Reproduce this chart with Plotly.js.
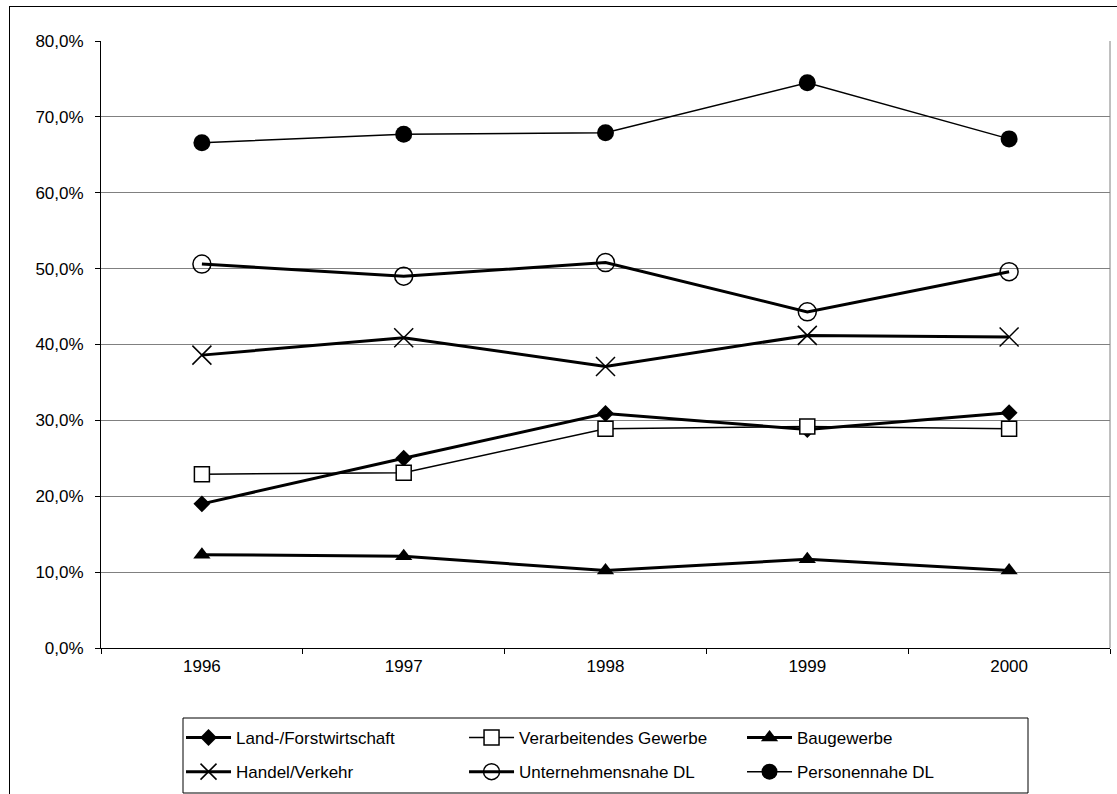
<!DOCTYPE html>
<html>
<head>
<meta charset="utf-8">
<script src="https://cdn.plot.ly/plotly-3.0.1.min.js"></script>
<style>
  html, body { margin: 0; padding: 0; background: #fff; }
  #wrap { position: relative; width: 1117px; height: 794px; overflow: hidden; }
  #chart { position: absolute; left: 0; top: 0; width: 1117px; height: 794px; }
  #frame { position: absolute; left: 9px; top: 6px; width: 1200px; height: 900px;
           border-left: 1px solid #000; border-top: 1px solid #000; pointer-events: none; }
</style>
</head>
<body>
<div id="wrap">
  <div id="chart"></div>
  <div id="frame"></div>
</div>
<script>
// Jahre (Kategorien der x-Achse)
const years = ['1996', '1997', '1998', '1999', '2000'];

// Anteile in Prozent je Wirtschaftsbereich
const landForst      = [19.0, 25.0, 30.9, 28.8, 31.0];
const verarbeitendes = [22.9, 23.1, 28.9, 29.2, 28.9];
const baugewerbe     = [12.3, 12.1, 10.2, 11.7, 10.2];
const handelVerkehr  = [38.6, 40.9, 37.1, 41.2, 41.0];
const unternehmensDL = [50.6, 49.0, 50.8, 44.3, 49.6];
const personenDL     = [66.6, 67.7, 67.9, 74.5, 67.1];

const seriesNames = [
  'Land-/Forstwirtschaft', 'Verarbeitendes Gewerbe', 'Baugewerbe',
  'Handel/Verkehr', 'Unternehmensnahe DL', 'Personennahe DL'
];

// y-Achsenbeschriftung im deutschen Format (Dezimalkomma)
const yTicks = [0, 10, 20, 30, 40, 50, 60, 70, 80];
const yTickText = yTicks.map(v => v.toFixed(1).replace('.', ',') + '%');

function series(name, values, lineWidth, marker, legendId) {
  return {
    type: 'scatter', mode: 'lines+markers', name: name,
    x: years, y: values,
    line: { color: '#000', width: lineWidth },
    marker: marker,
    legend: legendId,
    legendgroup: name,
    cliponaxis: false
  };
}

const traces = [
  series(seriesNames[0], landForst, 3,
    { symbol: 'diamond', size: 13, color: '#000', line: { color: '#000', width: 0 } }, 'legend'),
  series(seriesNames[1], verarbeitendes, 1.5,
    { symbol: 'square', size: 15, color: '#fff', line: { color: '#000', width: 1.5 } }, 'legend2'),
  series(seriesNames[2], baugewerbe, 3,
    { symbol: 'triangle-up', size: 15, color: '#000', line: { color: '#000', width: 0 } }, 'legend3'),
  series(seriesNames[3], handelVerkehr, 3,
    { symbol: 'x-thin', size: 19, color: '#000', line: { color: '#000', width: 1.5 } }, 'legend'),
  series(seriesNames[4], unternehmensDL, 3,
    { symbol: 'circle-open', size: 18, color: '#000', line: { color: '#000', width: 1.5 } }, 'legend2'),
  series(seriesNames[5], personenDL, 1.5,
    { symbol: 'circle', size: 17, color: '#000', line: { color: '#000', width: 0 } }, 'legend3')
];

// Legende in drei Spalten, gemeinsamer Rahmen als Shape
function legendColumn(x) {
  return {
    orientation: 'v',
    x: x, xanchor: 'left',
    y: -0.1186, yanchor: 'top',
    itemwidth: 45,
    tracegroupgap: 9,
    bgcolor: 'rgba(0,0,0,0)', borderwidth: 0,
    font: { size: 17, color: '#000' },
    traceorder: 'grouped'
  };
}

const layout = {
  width: 1117, height: 794,
  margin: { l: 101, r: 7, t: 41, b: 146, pad: 0, autoexpand: false },
  paper_bgcolor: 'rgba(0,0,0,0)',
  plot_bgcolor: '#fff',
  font: { family: 'Liberation Sans, Arial, sans-serif', size: 17, color: '#000' },
  showlegend: true,
  xaxis: {
    type: 'category',
    range: [-0.5, 4.5],
    showgrid: false, zeroline: false,
    showline: true, linecolor: '#000', linewidth: 1,
    ticks: 'outside', tickson: 'boundaries', ticklen: 5, tickcolor: '#000', tickwidth: 1,
    ticklabelstandoff: 3,
    tickfont: { size: 17 },
    fixedrange: true
  },
  yaxis: {
    range: [0, 80],
    tickmode: 'array',
    tickvals: yTicks,
    ticktext: yTickText,
    showgrid: true, gridcolor: '#808080', gridwidth: 1,
    zeroline: false,
    showline: true, linecolor: '#000', linewidth: 1,
    ticks: 'outside', ticklen: 5, tickcolor: '#000', tickwidth: 1,
    ticklabelstandoff: 8,
    tickfont: { size: 17 },
    fixedrange: true
  },
  shapes: [
    { type: 'line', xref: 'paper', yref: 'paper', x0: 1, x1: 1, y0: 0, y1: 1,
      line: { color: '#808080', width: 1 } },
    { type: 'rect', xref: 'paper', yref: 'paper',
      x0: (183 - 101) / 1009, x1: (1028 - 101) / 1009,
      y0: (648 - 718) / 607, y1: (648 - 793) / 607,
      line: { color: '#000', width: 1 }, fillcolor: 'rgba(0,0,0,0)', layer: 'below' }
  ],
  legend: legendColumn(0.0793),
  legend2: legendColumn(0.3598),
  legend3: legendColumn(0.6353)
};

Plotly.newPlot('chart', traces, layout, { staticPlot: true, displayModeBar: false });
</script>
</body>
</html>
